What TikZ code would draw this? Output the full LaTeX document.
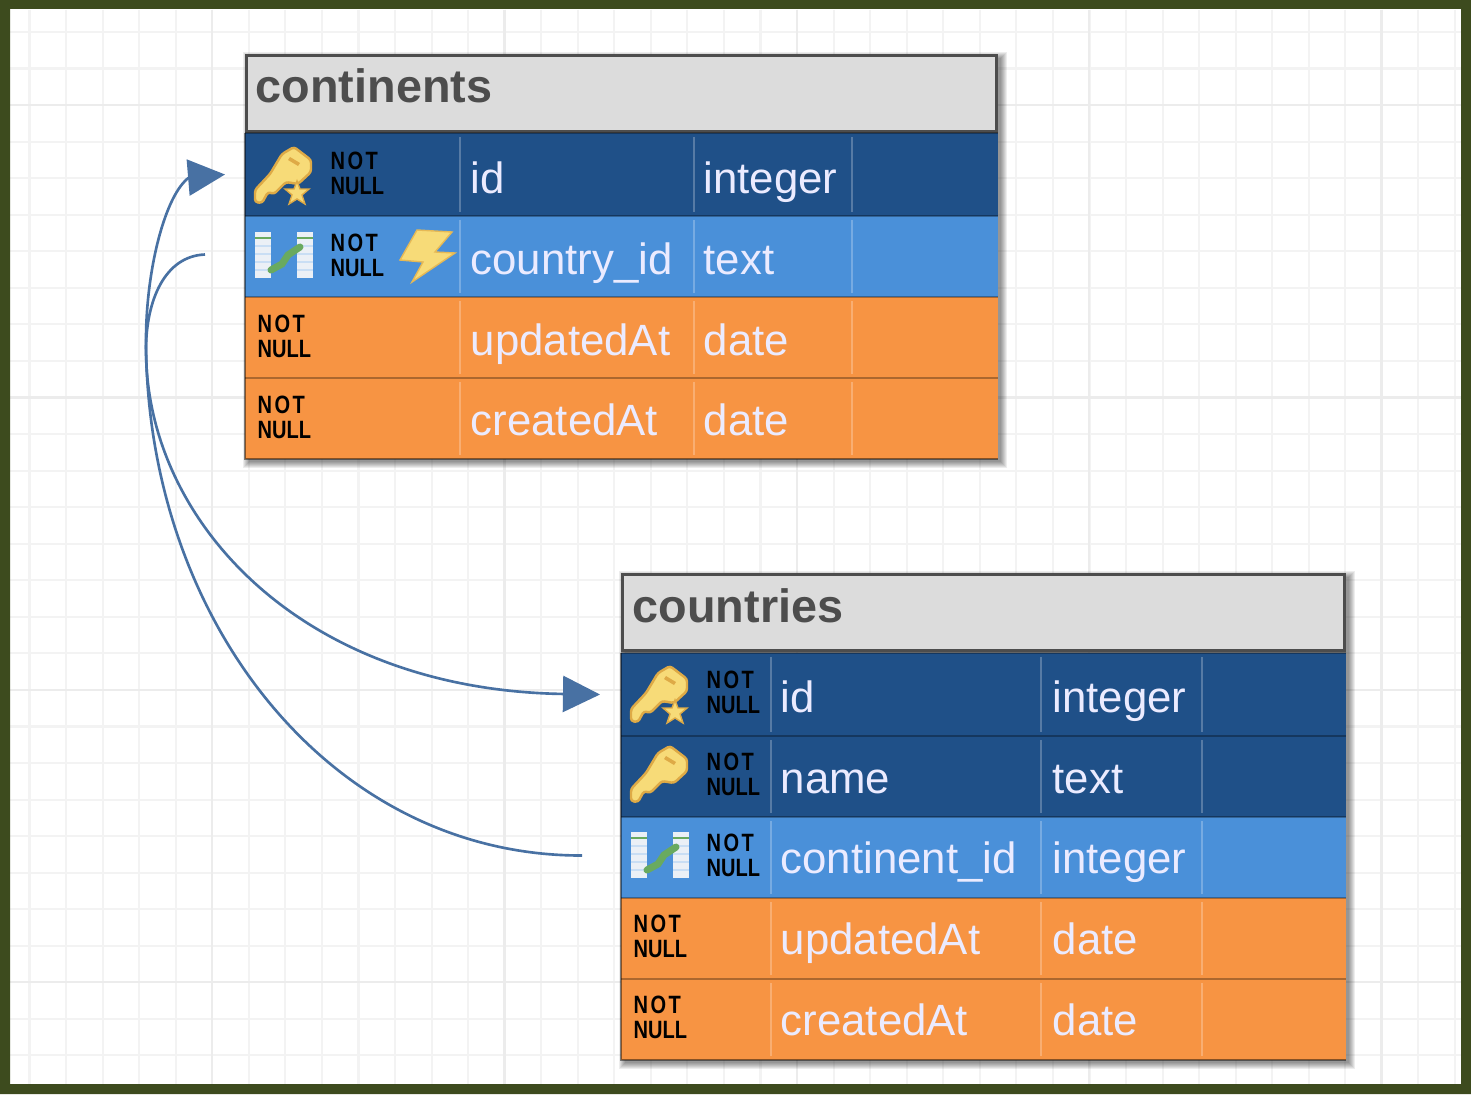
\documentclass[tikz,border=0pt]{standalone}
\usepackage{fontspec}
\setmainfont{Liberation Sans}
\usetikzlibrary{arrows.meta, calc}
\definecolor{framegreen}{RGB}{61,75,30}
\definecolor{gridminor}{RGB}{243,243,243}
\definecolor{gridmajor}{RGB}{236,236,236}
\definecolor{navyrow}{RGB}{31,80,136}
\definecolor{bluerow}{RGB}{74,144,217}
\definecolor{orangerow}{RGB}{247,148,67}
\definecolor{titlegray}{RGB}{220,220,220}
\definecolor{titleink}{RGB}{77,77,77}
\definecolor{linkblue}{RGB}{72,113,163}
\definecolor{keygold}{RGB}{247,219,120}
\definecolor{keyedge}{RGB}{222,170,70}
\definecolor{linkgreen}{RGB}{105,170,95}
\definecolor{sheetwhite}{RGB}{235,240,246}
\newcommand{\notnull}{\scalebox{1}[1.25]{N\kern.7pt O\kern.7pt T}\\\scalebox{1}[1.25]{NULL}}
\tikzset{
 titlebox/.style={draw=titleink, line width=0.8pt, fill=titlegray, anchor=north west, inner sep=0pt, minimum height=0.76cm},
 titletext/.style={anchor=base west, inner sep=0pt, text=titleink, font=\fontsize{13.3}{14}\selectfont\bfseries},
 rowbox/.style={anchor=north west, inner sep=0pt, outer sep=0pt},
 celltext/.style={anchor=base west, inner sep=0pt, text=white!92!blue, font=\fontsize{12.45}{14}\selectfont},
 nulltext/.style={anchor=west, inner sep=0pt, align=left, font=\fontsize{5.7}{7.2}\selectfont\bfseries},
 tableedge/.style={draw=black, opacity=0.45, line width=0.5pt},
 relation/.style={draw=linkblue, line width=0.75pt},
 relationhead/.style={-{Triangle[length=0.37cm,width=0.36cm,fill=linkblue]}},
 keyicon/.pic={
  \draw[keyedge, line width=0.7pt, fill=keygold, rounded corners=0.8pt] (-29,14) -- (-14,-2) -- (-2,-22) -- (10,-29) -- (27,-16) -- (27,-4) -- (14,8) -- (2,6) -- (-10,18) -- (-16,16) -- (-22,27) -- (-29,26) -- cycle;
  \fill[keyedge] (6,-19) -- (16,-13) -- (14,-10) -- (4,-16) -- cycle;
 },
 staricon/.pic={
  \fill[keygold, draw=keyedge, line width=0.4pt] (0,-12) -- (3,-4) -- (12,-4) -- (5,2) -- (8,11) -- (0,6) -- (-8,11) -- (-5,2) -- (-12,-4) -- (-3,-4) -- cycle;
 },
 linkicon/.pic={
  \foreach \sx in {-29,13}{
   \fill[sheetwhite] (\sx,-23) rectangle +(16,46);
   \draw[linkgreen, line width=0.5pt] (\sx,-17) -- +(16,0);
   \foreach \sy in {-9,-1,7,15}{
    \draw[white!70!bluerow, line width=0.4pt] (\sx,\sy) -- +(16,0);
   }
  }
  \draw[linkgreen, line width=2pt, line cap=round] (-13,15) -- (-2,9) -- (4,0) -- (16,-8);
 },
 bolticon/.pic={
  \fill[keygold, draw=keyedge!70!keygold, line width=0.4pt] (-10,-26) -- (25,-24) -- (8,-4) -- (28,-3) -- (-15,26) -- (-4,6) -- (-27,4) -- cycle;
 }
}

\begin{document}
\begin{tikzpicture}[x=0.01cm,y=-0.01cm]

\useasboundingbox (0,0) rectangle (1471,1094);

%background
\fill[white] (0,0) rectangle (1471,1094);
\foreach \i in {0,...,39}{
 \draw[gridminor, line width=0.6pt] ({29.5+36.55*\i},10) -- ({29.5+36.55*\i},1084);
}
\foreach \i in {0,...,29}{
 \draw[gridminor, line width=0.6pt] (10,{32+36.55*\i}) -- (1461,{32+36.55*\i});
}
\foreach \i in {0,...,4}{
 \draw[gridmajor, line width=0.7pt] ({212+292.4*\i},10) -- ({212+292.4*\i},1084);
}
\foreach \i in {0,...,3}{
 \draw[gridmajor, line width=0.7pt] (10,{105+292.4*\i}) -- (1461,{105+292.4*\i});
}

%shadows
\foreach \s in {1,...,7}{
 \fill[black, opacity=0.07] (245-3+\s,54-3+\s) rectangle (998+10-\s,459+10-\s);
 \fill[black, opacity=0.07] (621-3+\s,573-3+\s) rectangle (1346+10-\s,1060+10-\s);
}

%continents
\node[titlebox, minimum width=7.50cm] (contTitle) at (245,54) {};
\node[titletext] (contTitleText) at (255,103) {continents};
\foreach \nm/\yy/\rh/\bl/\fl/\col/\typ in {contId/133/83/193/navyrow/id/integer, contFk/216/81/274/bluerow/country\_id/text, contUpd/297/81/355/orangerow/updatedAt/date, contCre/378/81/435/orangerow/createdAt/date}{
 \node[rowbox, fill=\fl, minimum width=7.53cm, minimum height=\rh*0.01cm] (\nm) at (245,\yy) {};
 \node[celltext] (\nm-col) at (470,\bl) {\col};
 \node[celltext] (\nm-typ) at (703,\bl) {\typ};
 \foreach \c in {460,694,852}{
  \draw[white, opacity=0.25, line width=0.8pt] (\c,\yy+4) -- (\c,\yy+\rh-4);
 }
 \draw[black, opacity=0.3, line width=0.7pt] (245,\yy) -- (998,\yy);
}
\foreach \nm/\nx in {contId/330, contFk/330, contUpd/257, contCre/257}{
 \node[nulltext] (\nm-null) at ($(\nm.west)+(\nx-245,-1)$) {\notnull};
}
\draw[tableedge] (contId.north west) -- (contCre.south west) -- (contCre.south east);

%countries
\node[titlebox, minimum width=7.22cm] (countTitle) at (621,573) {};
\node[titletext] (countTitleText) at (632,622) {countries};
\foreach \nm/\yy/\rh/\bl/\fl/\col/\typ in {countId/653/83/712/navyrow/id/integer, countName/736/81/793/navyrow/name/text, countFk/817/81/873/bluerow/continent\_id/integer, countUpd/898/81/954/orangerow/updatedAt/date, countCre/979/81/1035/orangerow/createdAt/date}{
 \node[rowbox, fill=\fl, minimum width=7.25cm, minimum height=\rh*0.01cm] (\nm) at (621,\yy) {};
 \node[celltext] (\nm-col) at (780,\bl) {\col};
 \node[celltext] (\nm-typ) at (1052,\bl) {\typ};
 \foreach \c in {771,1041,1202}{
  \draw[white, opacity=0.25, line width=0.8pt] (\c,\yy+4) -- (\c,\yy+\rh-4);
 }
 \draw[black, opacity=0.3, line width=0.7pt] (621,\yy) -- (1346,\yy);
}
\foreach \nm/\nx in {countId/706, countName/706, countFk/706, countUpd/633, countCre/633}{
 \node[nulltext] (\nm-null) at ($(\nm.west)+(\nx-621,-2)$) {\notnull};
}
\draw[tableedge] (countId.north west) -- (countCre.south west) -- (countCre.south east);

%icons
\pic at (284,176) {keyicon};
\pic at (297,193) {staricon};
\pic at (284,255) {linkicon};
\pic at (427,256) {bolticon};
\pic at (660,695) {keyicon};
\pic at (675,712) {staricon};
\pic at (660,775) {keyicon};
\pic at (660,855) {linkicon};

%relations
\coordinate (contOut) at ($(contFk.west)+(-40,-2)$);
\coordinate (contIn) at ($(contId.west)+(-20,0)$);
\coordinate (contBend) at ($(contIn)+(-36,3)$);
\coordinate (countIn) at ($(countId.west)+(-21,0)$);
\coordinate (countOut) at ($(countFk.west)+(-39,-2)$);

\draw[relation, relationhead] (contOut) .. controls (165,256) and (146,300) .. (146,350) .. controls (146,520) and (300,690) .. (countIn);
\draw[relation, relationhead] (countOut) .. controls (330,856) and (146,620) .. (146,340) .. controls (146,270) and (165,195) .. (contBend) -- (contIn);

%frame
\fill[framegreen, even odd rule] (0,0) rectangle (1471,1094) (10,9) rectangle (1461,1084);

\end{tikzpicture}
\end{document}
